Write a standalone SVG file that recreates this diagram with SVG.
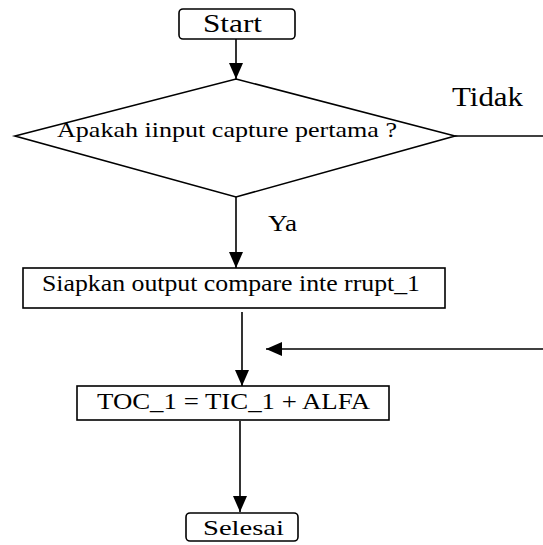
<svg xmlns="http://www.w3.org/2000/svg" width="543" height="545" viewBox="0 0 543 545">
<style>
.s{fill:#fff;stroke:#000;stroke-width:1.6}
.c{fill:none;stroke:#000;stroke-width:1.6}
text{font-family:"Liberation Serif","Times New Roman",serif;fill:#000}
</style>
<defs>
<marker id="ah" markerUnits="userSpaceOnUse" markerWidth="16" markerHeight="14" refX="16" refY="7" orient="auto">
<path d="M0,0 L16,7 L0,14 Z" fill="#000"/>
</marker>
</defs>
<rect width="543" height="545" fill="#fff"/>
<g id="connectors">
<line class="c" x1="236" y1="39" x2="236" y2="79" marker-end="url(#ah)"/>
<line class="c" x1="236" y1="197" x2="236" y2="268" marker-end="url(#ah)"/>
<line class="c" x1="455" y1="136" x2="543" y2="136"/>
<line class="c" x1="242" y1="312" x2="242" y2="386" marker-end="url(#ah)"/>
<line class="c" x1="543" y1="349" x2="266" y2="349" marker-end="url(#ah)"/>
<line class="c" x1="240" y1="421" x2="240" y2="512" marker-end="url(#ah)"/>
</g>
<g id="start">
<rect class="s" x="179" y="9" width="116" height="30" rx="4"/>
<text x="203" y="32" font-size="26" textLength="59" lengthAdjust="spacingAndGlyphs">Start</text>
</g>
<g id="decision">
<polygon class="s" points="236,79 455,136 236,197 15,136"/>
<text x="57" y="137" font-size="21" textLength="340" lengthAdjust="spacingAndGlyphs">Apakah iinput capture pertama ?</text>
</g>
<g id="label-tidak">
<text x="452" y="106" font-size="27" textLength="71" lengthAdjust="spacingAndGlyphs">Tidak</text>
</g>
<g id="label-ya">
<text x="268" y="231" font-size="24" textLength="29" lengthAdjust="spacingAndGlyphs">Ya</text>
</g>
<g id="siapkan">
<rect class="s" x="23" y="268" width="422" height="40"/>
<text x="42" y="291" font-size="24" textLength="378" lengthAdjust="spacingAndGlyphs">Siapkan output compare inte rrupt_1</text>
</g>
<g id="toc">
<rect class="s" x="77" y="386" width="312" height="34"/>
<text x="97" y="409" font-size="24" textLength="273" lengthAdjust="spacingAndGlyphs">TOC_1 = TIC_1 + ALFA</text>
</g>
<g id="selesai">
<rect class="s" x="186" y="513" width="112" height="28" rx="4"/>
<text x="203" y="535" font-size="22" textLength="81" lengthAdjust="spacingAndGlyphs">Selesai</text>
</g>
</svg>
